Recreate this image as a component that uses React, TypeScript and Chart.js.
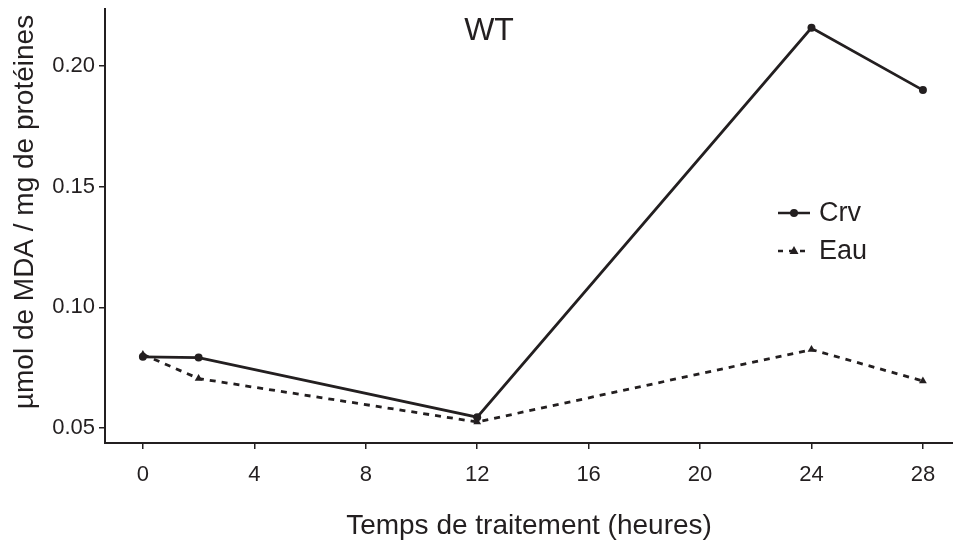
import React, { useEffect, useRef } from "react";
import { Chart, registerables } from "chart.js";

Chart.register(...registerables);

const hours = [0, 2, 12, 24, 28];
const crv = [0.0795, 0.0792, 0.0545, 0.2158, 0.190];
const eau = [0.0805, 0.0705, 0.0525, 0.0825, 0.0695];
const xTicks = [0, 4, 8, 12, 16, 20, 24, 28];
const yTicks = [0.05, 0.1, 0.15, 0.2];
const seriesNames = ["Crv", "Eau"];
const chartTitle = "WT";
const xTitle = "Temps de traitement (heures)";
const yTitle = "µmol de MDA / mg de protéines";

const FONT = "'Liberation Sans', Arial, sans-serif";
const INK = "#231f20";

const overlayPlugin = {
  id: "overlay",
  afterDatasetsDraw(chart: any) {
    const ctx = chart.ctx;
    ctx.save();
    ctx.fillStyle = INK;
    // chart title inside plot
    ctx.font = `32px ${FONT}`;
    ctx.textAlign = "center";
    ctx.textBaseline = "middle";
    ctx.fillText(chartTitle, 489, 31);
    // y axis title
    ctx.save();
    ctx.translate(25, 212);
    ctx.rotate(-Math.PI / 2);
    ctx.font = `28px ${FONT}`;
    ctx.textAlign = "center";
    ctx.textBaseline = "middle";
    ctx.fillText(yTitle, 0, 0);
    ctx.restore();
    // legend
    const lx = 778;
    const rows = [213, 251];
    chart.data.datasets.forEach((ds: any, i: number) => {
      const y = rows[i];
      ctx.strokeStyle = INK;
      ctx.lineWidth = 2.5;
      ctx.setLineDash(ds.borderDash ? [5, 6] : []);
      ctx.beginPath();
      ctx.moveTo(lx, y);
      ctx.lineTo(lx + 32, y);
      ctx.stroke();
      ctx.setLineDash([]);
      ctx.fillStyle = INK;
      ctx.beginPath();
      if (ds.pointStyle === "triangle") {
        ctx.moveTo(lx + 16, y - 5);
        ctx.lineTo(lx + 20.5, y + 3);
        ctx.lineTo(lx + 11.5, y + 3);
        ctx.closePath();
      } else {
        ctx.arc(lx + 16, y, 4, 0, Math.PI * 2);
      }
      ctx.fill();
      ctx.font = `27px ${FONT}`;
      ctx.textAlign = "left";
      ctx.textBaseline = "middle";
      ctx.fillText(ds.label, lx + 41, y + 1);
    });
    ctx.restore();
  },
};

export default function App() {
  const ref = useRef<HTMLCanvasElement>(null);
  useEffect(() => {
    if (!ref.current) return;
    const chart = new Chart(ref.current, {
      type: "line",
      data: {
        datasets: [
          {
            label: seriesNames[0],
            data: hours.map((h, i) => ({ x: h, y: crv[i] })),
            borderColor: INK,
            backgroundColor: INK,
            borderWidth: 2.8,
            pointStyle: "circle",
            pointRadius: 4,
            pointBorderWidth: 0,
            tension: 0,
          },
          {
            label: seriesNames[1],
            data: hours.map((h, i) => ({ x: h, y: eau[i] })),
            borderColor: INK,
            backgroundColor: INK,
            borderWidth: 2.8,
            borderDash: [6, 6],
            pointStyle: "triangle",
            pointRadius: 4.5,
            pointBorderWidth: 0,
            tension: 0,
          },
        ],
      },
      options: {
        animation: false,
        responsive: false,
        layout: { autoPadding: false, padding: { top: 9, right: 0, left: 0, bottom: 0 } },
        plugins: {
          legend: { display: false },
          title: { display: false },
          tooltip: { enabled: false },
        },
        scales: {
          x: {
            type: "linear",
            min: -1.36,
            max: 29.08,
            afterBuildTicks: (s: any) => {
              s.ticks = xTicks.map((v) => ({ value: v }));
            },
            afterFit: (s: any) => {
              s.height = 104;
              s.paddingLeft = 0;
              s.paddingRight = 0;
            },
            ticks: {
              font: { family: FONT, size: 22 },
              color: INK,
              padding: 13,
              maxRotation: 0,
              autoSkip: false,
            },
            grid: {
              drawOnChartArea: false,
              drawTicks: true,
              tickLength: 6,
              color: INK,
              lineWidth: 1.5,
            },
            border: { display: true, color: INK, width: 2 },
            title: {
              display: true,
              text: xTitle,
              font: { family: FONT, size: 28 },
              color: INK,
              padding: { top: 0, bottom: 4 },
            },
          },
          y: {
            type: "linear",
            min: 0.0438,
            max: 0.2236,
            afterBuildTicks: (s: any) => {
              s.ticks = yTicks.map((v) => ({ value: v }));
            },
            afterFit: (s: any) => {
              s.width = 105;
              s.paddingTop = 0;
              s.paddingBottom = 0;
            },
            ticks: {
              font: { family: FONT, size: 22 },
              color: INK,
              padding: 4,
              callback: (v: any) => Number(v).toFixed(2),
            },
            grid: {
              drawOnChartArea: false,
              drawTicks: true,
              tickLength: 6,
              color: INK,
              lineWidth: 1.5,
            },
            border: { display: true, color: INK, width: 2 },
            title: { display: false },
          },
        },
      },
      plugins: [overlayPlugin],
    });
    return () => chart.destroy();
  }, []);
  return (
    <div style={{ position: "absolute", left: 0, top: 0, width: 953, height: 547, background: "#fff" }}>
      <canvas ref={ref} width={953} height={547} />
    </div>
  );
}
